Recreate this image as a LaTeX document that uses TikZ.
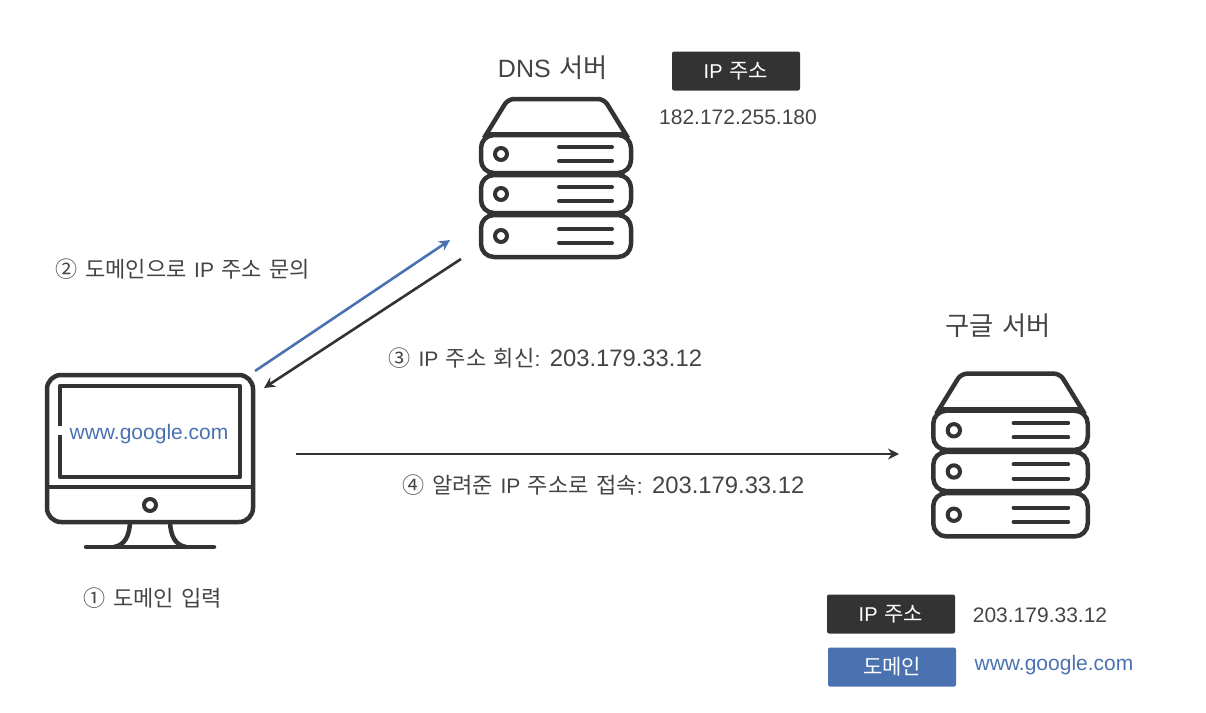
\documentclass[tikz,border=0pt]{standalone}
\usepackage{fontspec}
\setmainfont{Liberation Sans}
\newfontfamily\kofont[Scale=1.05]{Noto Sans CJK KR}
\newcommand{\ko}[1]{{\kofont #1}}
\newcommand{\wordgap}[1]{\spaceskip #1\relax}
\newcommand{\googleip}{{\fontsize{23.8}{24}\selectfont 203.179.33.12}}
\usetikzlibrary{arrows.meta,positioning}
\definecolor{inkgray}{HTML}{333333}
\definecolor{txtgray}{HTML}{444444}
\definecolor{domblue}{HTML}{4A72B0}
\tikzset{
  icon/.style={draw=inkgray,line width=4.5pt,line join=round},
  thin icon/.style={draw=inkgray,line width=4pt,line cap=round},
  lbl/.style={text=txtgray,font=\fontsize{21}{24}\selectfont\wordgap{7.5pt},inner sep=0pt},
  title/.style={text=txtgray,font=\fontsize{25}{28}\selectfont\wordgap{9pt},inner sep=0pt},
  tag/.style={rounded corners=2pt,minimum width=128pt,minimum height=39pt,inner sep=0pt,
    text=white,font=\fontsize{20}{22}\selectfont\wordgap{7pt}},
  link/.style={line width=2.6pt,-{Stealth[length=11pt,width=11pt]}},
  server/.pic={
    \draw[icon,rounded corners=6pt] (-72,-40) -- (-48,-79) -- (48,-79) -- (72,-40);
    \draw[icon] (-68,-44) -- (68,-44);
    % three stacked units
    \foreach \ytop/\ymid/\ybot in {-43/-24/-5,-3/16/35,37/58/79} {
      \draw[icon,rounded corners=13pt] (-75,\ytop) rectangle (75,\ybot);
      \draw[draw=inkgray,line width=4pt] (-55,\ymid) circle (6);
      \draw[thin icon] (3,\ymid-7) -- (56,\ymid-7);
      \draw[thin icon] (3,\ymid+7) -- (56,\ymid+7);
    }
  }
}
\begin{document}
\begin{tikzpicture}[x=1pt,y=-1pt]
  \useasboundingbox (0,0) rectangle (1206,712);
  % servers
  \pic at (556,178) {server};
  \pic[scale=1.03] at (1010.5,455) {server};
  \node[title] (dnsname) at (553,68) {DNS \ko{서버}};
  \node[title] (googlename) at (998,326) {\ko{구글 서버}};
  \node[tag,fill=inkgray] (dnstag) at (736,71) {IP \ko{주소}};
  \node[lbl] (dnsip) at (738,117) {182.172.255.180};
  % monitor
  \draw[icon,rounded corners=14pt] (47,375) rectangle (253,522);
  \draw[icon] (47,487) -- (253,487);
  \draw[icon] (60,426) -- (60,386) -- (240,386) -- (240,477) -- (60,477) -- (60,435);
  \draw[draw=inkgray,line width=4pt] (150,505) circle (6);
  \draw[icon] (130,523) .. controls (129,536) and (125,545) .. (114,547);
  \draw[icon] (170,523) .. controls (171,536) and (175,545) .. (186,547);
  \draw[icon,line cap=round] (86,547) -- (214,547);
  \node[lbl,text=domblue] (screenurl) at (149,434) {www.google.com};
  % arrows
  \coordinate (pcout) at (255,371);
  \coordinate (dnsin) at (450,240);
  \coordinate (dnsout) at (461,259);
  \coordinate (pcin) at (264,388);
  \coordinate (pcright) at (296,454);
  \coordinate (googlein) at (899,454);
  \draw[link,draw=domblue,-{Stealth[length=11pt,width=11pt,fill=domblue]}] (pcout) -- (dnsin);
  \draw[link,draw=inkgray] (dnsout) -- (pcin);
  \draw[link,draw=inkgray] (pcright) -- (googlein);
  \node[lbl] (asklbl) at (183,269) {\ko{② 도메인으로} IP \ko{주소 문의}};
  \node[lbl] (replylbl) at (545.5,358) {\ko{③} IP \ko{주소 회신}: \googleip};
  \node[lbl] (connlbl) at (603.5,485) {\ko{④ 알려준} IP \ko{주소로 접속}: \googleip};
  \node[lbl] (inputlbl) at (153,598) {\ko{① 도메인 입력}};
  % legend
  \node[tag,fill=inkgray] (iptag) at (891,614) {IP \ko{주소}};
  \node[tag,fill=domblue] (domtag) at (892,667) {\ko{도메인}};
  \node[lbl] (ipval) at (1040,615) {203.179.33.12};
  \node[lbl,text=domblue] (domval) at (1054,665) {www.google.com};
\end{tikzpicture}
\end{document}
